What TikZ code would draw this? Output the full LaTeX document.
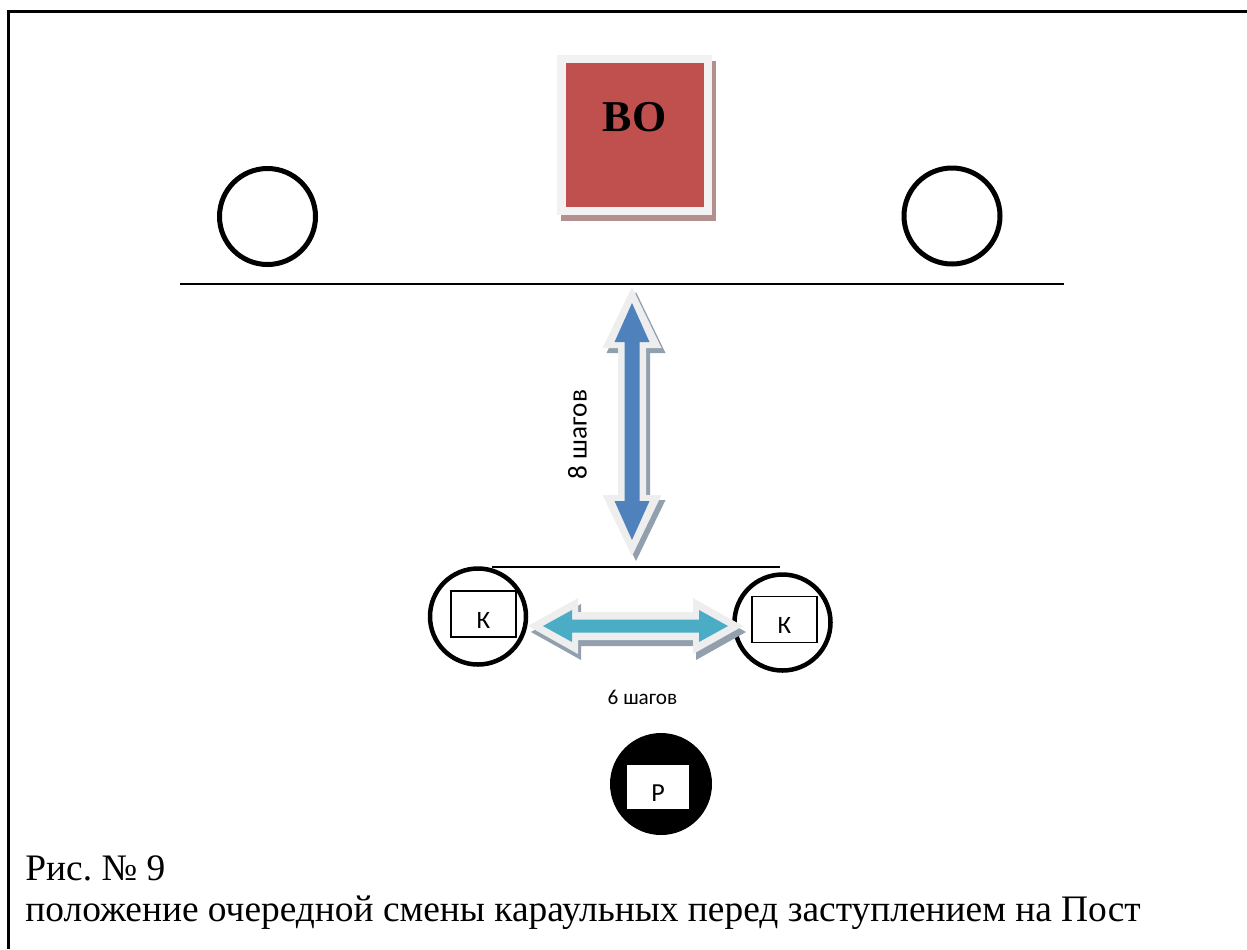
\documentclass[tikz,border=0pt]{standalone}
\usepackage{fontspec}
\setmainfont{Liberation Serif}
\newfontfamily\calibri{Carlito}
\usepackage{tikz}
\usetikzlibrary{calc}

\definecolor{bored}{RGB}{192,80,77}
\definecolor{borim}{RGB}{242,242,242}
\definecolor{boshade}{RGB}{180,143,143}
\definecolor{stepblue}{RGB}{79,129,189}
\definecolor{stepteal}{RGB}{75,172,198}
\definecolor{steprim}{RGB}{238,238,238}
\definecolor{stepshade}{RGB}{146,160,174}

% double block arrow along x, centred at the origin
% #1 half length, #2 head length, #3 half head width, #4 half shaft width
\newcommand{\blockarrow}[4]{(-#1,0) -- (-#1+#2,#3) -- (-#1+#2,#4) -- (#1-#2,#4) -- (#1-#2,#3) -- (#1,0) -- (#1-#2,-#3) -- (#1-#2,-#4) -- (-#1+#2,-#4) -- (-#1+#2,-#3) -- cycle}

\begin{document}
\begin{tikzpicture}[x=0.5pt,y=-0.5pt,
    post/.style={circle,draw=black,line width=2.5pt,minimum size=48pt,inner sep=0pt},
    guard/.style={circle,draw=black,line width=2.25pt,minimum size=48pt,inner sep=0pt},
    badge/.style={rectangle,draw=black,line width=0.8pt,fill=white,minimum width=32.5pt,minimum height=23pt,inner sep=0pt,text height=14pt,text depth=0pt,font=\calibri\fontsize{12.5}{14}\selectfont},
    bosquare/.style={rectangle,fill=bored,draw=borim,line width=4.25pt,minimum width=73.25pt,minimum height=76pt,inner sep=0pt},
    caption/.style={anchor=base west,inner sep=0pt,font=\fontsize{18.7}{21}\selectfont}]
            \useasboundingbox (0,0) rectangle (1247,949);

            % Frame of the page
            \draw[line width=1.5pt] (1247,11) -| (8,949);

            % Object to guard
            \coordinate (bopos) at (634.5,135);
            \fill[boshade] ($(bopos)+(-73.5,-74)$) rectangle ($(bopos)+(81.5,86)$); % shadow
            \node[bosquare] (bo) at (bopos) {};
            \node[font=\bfseries\fontsize{22}{24}\selectfont] (bolabel) at (634.5,117.5) {ВО};

            % Posts on the line
            \node[post] (lpost) at (267.5,216.5) {};
            \node[post] (rpost) at (952,216) {};
            \draw[line width=1pt] (180,284) -- (1064,284);

            % Relief guards
            \draw[line width=0.75pt] (492,567) -- (780,567);
            \node[guard] (lguard) at (478,616.5) {};
            \node[guard] (rguard) at (782.5,622.5) {};
            \node[badge] (lbadge) at (483.5,614) {К};
            \node[badge] (rbadge) at (784.5,619.5) {К};

            % 8 steps
            \coordinate (vmid) at (632,421.5);
            \begin{scope}[shift={(vmid)},xshift=2pt,yshift=-2.5pt,rotate=90]
                \fill[stepshade] \blockarrow{134.5}{61}{29.5}{14};
            \end{scope}
            \begin{scope}[shift={(vmid)},rotate=90]
                \fill[steprim] \blockarrow{134.5}{61}{29.5}{14};
                \fill[stepblue] \blockarrow{118.5}{39}{17.5}{7.5};
            \end{scope}
            \node[font=\calibri\fontsize{13.6}{15}\selectfont,rotate=90] (eightsteps) at (577.5,434.5) {8 шагов};

            % 6 steps
            \coordinate (hmid) at (635.5,626);
            \begin{scope}[shift={(hmid)},xshift=1.5pt,yshift=-3pt]
                \fill[stepshade] \blockarrow{107.5}{50}{28}{14};
            \end{scope}
            \begin{scope}[shift={(hmid)}]
                \fill[steprim] \blockarrow{107.5}{50}{28}{14};
                \fill[stepteal] \blockarrow{92.5}{29}{16}{6.5};
            \end{scope}
            \node[font=\calibri\fontsize{10.6}{12}\selectfont] (sixsteps) at (642.5,697) {6 шагов};

            % Guard commander
            \node[circle,fill=black,minimum size=51pt,inner sep=0pt] (chief) at (661,784) {};
            \node[badge,draw=none,minimum width=31pt,minimum height=22pt,text height=14.4pt,font=\calibri\fontsize{13}{15}\selectfont] (chiefbadge) at (658,787) {Р};

            % Caption
            \node[caption] (fignum) at (25,880) {Рис.\ № 9};
            \node[caption] (figtitle) at (25,921) {положение очередной смены караульных перед заступлением на Пост};
        \end{tikzpicture}
\end{document}
